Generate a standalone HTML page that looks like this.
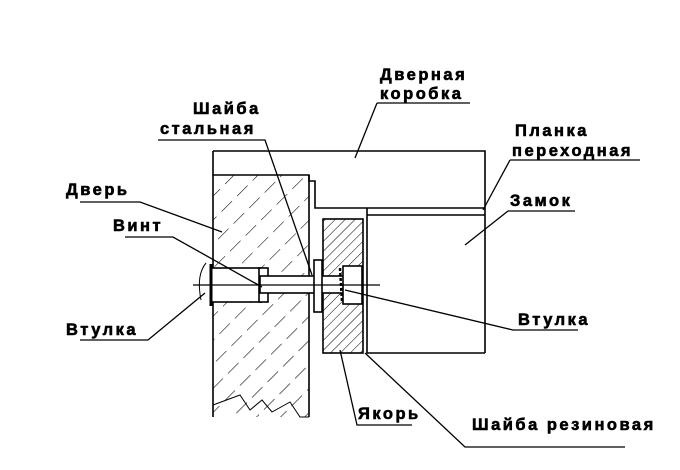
<!DOCTYPE html>
<html><head><meta charset="utf-8"><style>
html,body{margin:0;padding:0;background:#fff;}
text{font-family:"Liberation Sans",sans-serif;font-weight:bold;font-size:16.5px;letter-spacing:2.5px;fill:#000;stroke:#000;stroke-width:0.6px;}
</style></head><body>
<svg width="680" height="465" viewBox="0 0 680 465" xmlns="http://www.w3.org/2000/svg">
<defs>
<pattern id="h1" width="17" height="22" patternUnits="userSpaceOnUse" patternTransform="rotate(45)">
<line x1="0" y1="0" x2="0" y2="15" stroke="#000" stroke-width="1.1"/>
</pattern>
<pattern id="h2" width="7" height="7" patternUnits="userSpaceOnUse" patternTransform="rotate(45)">
<line x1="0" y1="0" x2="0" y2="7" stroke="#000" stroke-width="1"/>
</pattern>
</defs>
<g fill="none" stroke="#000" stroke-width="1.6">
<path d="M213,151 H485 V353"/>
<path d="M213,151 V175 H309 V181 H315 V208 H485"/>
<line x1="367" y1="215" x2="485" y2="215"/>
<path d="M367,208 V353 H485"/>
<rect x="213" y="175" width="96" height="242" fill="url(#h1)" stroke="none"/>
<path d="M213,175 V417 M309,175 V417"/>
<path d="M213,405 L240,395 L250,410 L262,400 L272,412 L290,402 L300,417 H309" stroke-width="1"/>
<rect x="323" y="219" width="40" height="134" fill="url(#h2)"/>
<rect x="211" y="268" width="50" height="34" fill="#fff"/>
<rect x="259" y="268" width="9" height="34" fill="#fff"/>
<rect x="260" y="276" width="85" height="17" fill="#fff"/>
<rect x="314" y="260" width="8" height="52" fill="#fff"/>
<rect x="343" y="266" width="19" height="38" fill="#fff"/>
<line x1="211" y1="264" x2="211" y2="306" stroke-width="3"/>
<line x1="340" y1="268" x2="342" y2="302" stroke-width="2.5" stroke-dasharray="3,2"/>
<line x1="193" y1="285" x2="380" y2="285" stroke-width="1.2"/>
<path d="M206,263 Q196,275 201,300" stroke-width="1"/>
<g stroke-width="1.3">
<path d="M377,103 H470 M377,103 L355,158"/>
<path d="M158,140 H265 L312,275"/>
<path d="M510,160 H640 M510,160 L483,210"/>
<path d="M80,202 H140 L222,232"/>
<path d="M508,211 H575 M508,211 L465,245"/>
<path d="M125,237 H173 L262,287"/>
<path d="M80,340 H148 L205,293"/>
<path d="M578,330 H513 L345,290"/>
<path d="M412,425 H357 L340,350"/>
<path d="M625,447 H465 L365,353"/>
</g>
</g>
<text x="380" y="80">Дверная</text>
<text x="380" y="99">коробка</text>
<text x="193" y="114">Шайба</text>
<text x="160" y="134">стальная</text>
<text x="515" y="136">Планка</text>
<text x="512" y="156">переходная</text>
<text x="66" y="195">Дверь</text>
<text x="510" y="206">Замок</text>
<text x="113" y="231">Винт</text>
<text x="66" y="335">Втулка</text>
<text x="518" y="325">Втулка</text>
<text x="358" y="419">Якорь</text>
<text x="472" y="430">Шайба резиновая</text>
</svg>
</body></html>
